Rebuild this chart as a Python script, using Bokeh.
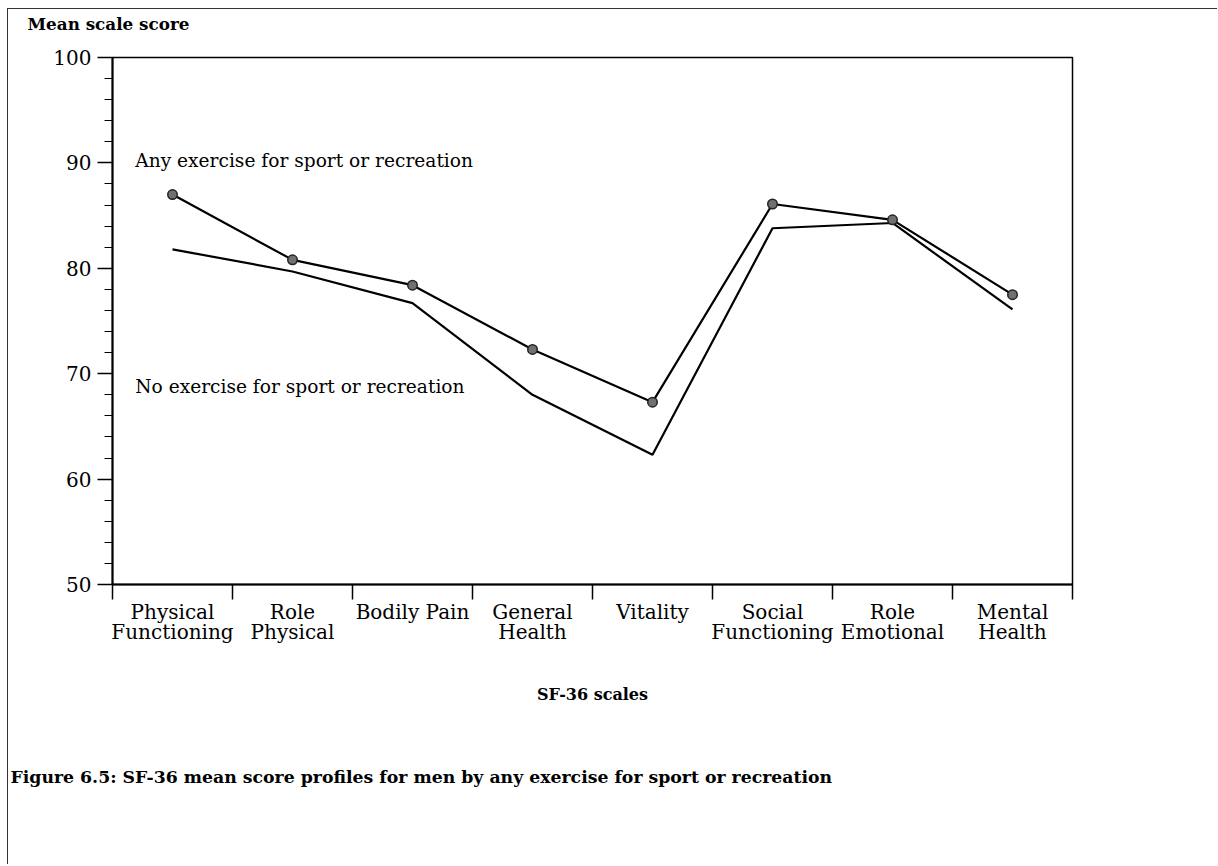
from bokeh.plotting import figure
from bokeh.models import Range1d, FixedTicker, Label, ColumnDataSource, Title
from bokeh.embed import file_html
from bokeh.resources import INLINE

# ---- data ----
categories = ["Physical\nFunctioning", "Role\nPhysical", "Bodily Pain", "General\nHealth",
              "Vitality", "Social\nFunctioning", "Role\nEmotional", "Mental\nHealth"]
any_exercise = [87.0, 80.8, 78.4, 72.3, 67.3, 86.1, 84.6, 77.5]
no_exercise = [81.8, 79.7, 76.7, 68.0, 62.3, 83.8, 84.3, 76.1]
y_ticks = [50, 60, 70, 80, 90, 100]
series_names = ["Any exercise for sport or recreation", "No exercise for sport or recreation"]

FONT = "DejaVu Serif"

xs = [i + 0.5 for i in range(len(categories))]
src = ColumnDataSource(dict(x=xs, any=any_exercise, no=no_exercise))

p = figure(frame_width=960, frame_height=527,
           x_range=Range1d(0, len(categories)), y_range=Range1d(y_ticks[0], y_ticks[-1]),
           output_backend="svg", toolbar_location=None,
           min_border_left=104, min_border_top=48, min_border_right=145, min_border_bottom=280)
p.styles = {"margin-left": "7px", "margin-top": "8px",
            "border-left": "1px solid #333", "border-top": "1px solid #333"}
p.background_fill_color = "white"
p.border_fill_color = "white"
p.outline_line_color = "black"
p.outline_line_width = 1.5
p.xgrid.visible = False
p.ygrid.visible = False

# y-axis title, horizontal, at the top-left (second blank line lifts it away from the frame)
p.title.text = "Mean scale score\n "
p.title.align = "left"
p.title.offset = -85
p.title.vertical_align = "top"
p.title.standoff = 4
p.title.text_font = FONT
p.title.text_font_size = "16.8px"
p.title.text_font_style = "bold"
p.title.text_color = "black"

# y axis
ya = p.yaxis[0]
ya.ticker = FixedTicker(ticks=y_ticks, minor_ticks=[v for v in range(y_ticks[0], y_ticks[-1] + 1, 2)])
ya.major_tick_out = 15
ya.major_tick_in = 0
ya.minor_tick_out = 8
ya.minor_tick_in = 0
ya.axis_line_width = 2
ya.major_tick_line_width = 1.5
ya.minor_tick_line_width = 1.2
ya.major_label_text_font = FONT
ya.major_label_text_font_size = "20px"
ya.major_label_text_color = "black"
ya.major_label_standoff = 6

# x axis: labels at category centers, ticks at boundaries
xa = p.xaxis[0]
xa.ticker = FixedTicker(ticks=xs, minor_ticks=list(range(len(categories) + 1)))
xa.major_label_overrides = {x: c for x, c in zip(xs, categories)}
xa.major_tick_line_color = None
xa.major_tick_out = 0
xa.major_tick_in = 0
xa.minor_tick_out = 15
xa.minor_tick_in = 0
xa.minor_tick_line_width = 1.5
xa.axis_line_width = 2
xa.major_label_text_font = FONT
xa.major_label_text_font_size = "20px"
xa.major_label_text_line_height = 0.85
xa.major_label_text_color = "black"
xa.major_label_standoff = 0
xa.axis_label = "SF-36 scales"
xa.axis_label_text_font = FONT
xa.axis_label_text_font_size = "16px"
xa.axis_label_text_font_style = "bold"
xa.axis_label_text_color = "black"
xa.axis_label_standoff = 38

# series
p.line("x", "any", source=src, line_color="black", line_width=2.2)
p.line("x", "no", source=src, line_color="black", line_width=2.2)
p.scatter("x", "any", source=src, size=9.5, fill_color="#707070", line_color="#222", line_width=1.5)

# series labels (data space)
p.add_layout(Label(x=0.19, y=90.2, text=series_names[0], text_font=FONT, text_font_size="18.6px",
                   text_baseline="middle", text_color="black"))
p.add_layout(Label(x=0.19, y=68.8, text=series_names[1], text_font=FONT, text_font_size="18.6px",
                   text_baseline="middle", text_color="black"))

# figure caption below the axis
cap = Title(text="Figure 6.5: SF-36 mean score profiles for men by any exercise for sport or recreation",
            align="left", offset=-102, vertical_align="top", standoff=120,
            text_font=FONT, text_font_size="17.3px", text_font_style="bold", text_color="black")
p.add_layout(cap, "below")

open("out.html", "w").write(file_html(p, INLINE))
